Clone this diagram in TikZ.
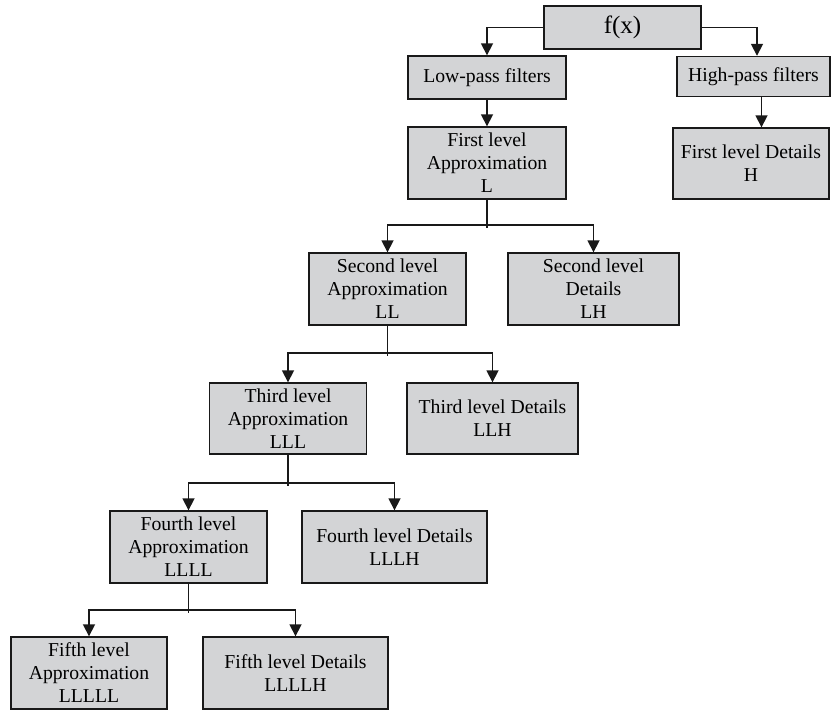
\documentclass[tikz,border=0pt]{standalone}
\usepackage{fontspec}
\setmainfont{Liberation Serif}
\usetikzlibrary{arrows.meta,calc}
\begin{document}
\begin{tikzpicture}[x=1pt,y=-1pt,
  box/.style={draw=black!90,line width=1.4pt,fill=boxgray,inner sep=0pt,align=center,
    font=\fontsize{19.7}{23}\selectfont,minimum height=72pt},
  arr/.style={line width=1.7pt,draw=black!90,-{Triangle[length=12pt,width=12pt]}},
  ln/.style={line width=1.7pt,draw=black!90}]
\definecolor{boxgray}{HTML}{D3D4D6}
\useasboundingbox (0,0) rectangle (831,710);
\node[box,minimum width=157pt,minimum height=43pt,font=\fontsize{25}{28}\selectfont] (fx) at (622.5,27.5) {f(x)};
\node[box,minimum width=158pt,minimum height=43pt] (low) at (487,77.5) {Low-pass filters};
\node[box,minimum width=153pt,minimum height=40pt] (high) at (753.5,76.5) {High-pass filters};
\node[box,minimum width=158pt] (L1) at (487,163) {First level\\Approximation\\L};
\node[box,minimum width=156pt,minimum height=71pt] (H1) at (751,163.5) {First level Details\\H};
\node[box,minimum width=157pt] (L2) at (387.5,289) {Second level\\Approximation\\LL};
\node[box,minimum width=171pt] (D2) at (593.5,289) {Second level\\Details\\LH};
\node[box,minimum width=157pt,minimum height=71pt] (L3) at (288,418.5) {Third level\\Approximation\\LLL};
\node[box,minimum width=171pt,minimum height=71pt] (D3) at (492.5,418.5) {Third level Details\\LLH};
\node[box,minimum width=157pt] (L4) at (188.5,547) {Fourth level\\Approximation\\LLLL};
\node[box,minimum width=185pt] (D4) at (394.5,547) {Fourth level Details\\LLLH};
\node[box,minimum width=156pt] (L5) at (89,673) {Fifth level\\Approximation\\LLLLL};
\node[box,minimum width=185pt] (D5) at (295.5,673) {Fifth level Details\\LLLLH};
\coordinate (j1) at (487,225);
\coordinate (j2) at (387.5,353);
\coordinate (j3) at (288,483);
\coordinate (j4) at (188.5,610);
\draw[arr] (fx.west) -| (low.north);
\draw[arr] (fx.east) -| ([xshift=3.5pt]high.north);
\draw[arr] (low.south) -- (L1.north);
\draw[arr] ([xshift=8pt]high.south) -- ([xshift=8pt]high.south |- H1.north);
\draw[ln] (L1.south) -- ([yshift=-3pt]j1);
\draw[arr] (j1) -| (L2.north);
\draw[arr] (j1) -| (D2.north);
\draw[ln] (L2.south) -- ([yshift=-3pt]j2);
\draw[arr] (j2) -| (L3.north);
\draw[arr] (j2) -| (D3.north);
\draw[ln] (L3.south) -- ([yshift=-3pt]j3);
\draw[arr] (j3) -| (L4.north);
\draw[arr] (j3) -| (D4.north);
\draw[ln] (L4.south) -- ([yshift=-3pt]j4);
\draw[arr] (j4) -| (L5.north);
\draw[arr] (j4) -| (D5.north);
\end{tikzpicture}
\end{document}
